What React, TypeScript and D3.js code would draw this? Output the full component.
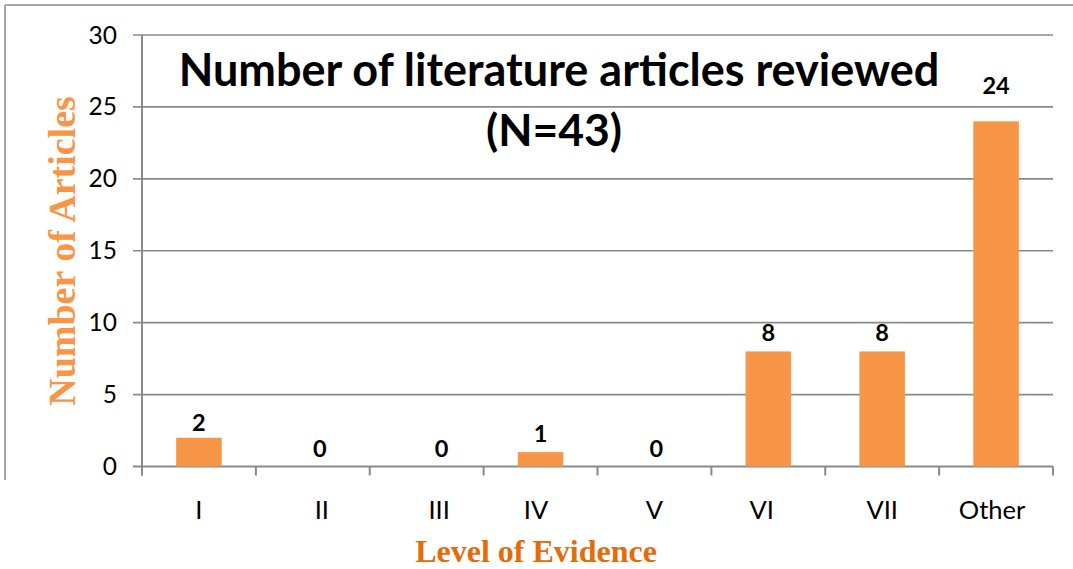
import React from "react";
import * as d3 from "d3";

const categories = ["I", "II", "III", "IV", "V", "VI", "VII", "Other"];
const articleCounts = [2, 0, 0, 1, 0, 8, 8, 24];
const yTicks = [0, 5, 10, 15, 20, 25, 30];
const titleLines = ["Number of literature articles reviewed", "(N=43)"];
const yAxisTitle = "Number of Articles";
const xAxisTitle = "Level of Evidence";

const W = 1073;
const H = 569;
const plot = { left: 142, right: 1053, top: 35, bottom: 466.5 };
// manual label placements as in the source chart
const labelNudgeY: Record<string, number> = { I: 3, Other: -17 };
const labelNudgeX: Record<string, number> = { II: 7, III: 15, V: 2 };
const tickNudgeX: Record<string, number> = { II: 9, III: 12.5, IV: -4.5, VI: -6.5, Other: -4 };

const sans = "Lato, 'Open Sans', sans-serif";
const serif = "'Liberation Serif', 'DejaVu Serif', serif";

export default function App() {
  const x = d3
    .scaleBand<string>()
    .domain(categories)
    .range([plot.left, plot.right])
    .paddingInner(0.6)
    .paddingOuter(0.3);
  const xb = d3.scaleBand<string>().domain(categories).range([plot.left, plot.right]);
  const y = d3.scaleLinear().domain([0, 30]).range([plot.bottom, plot.top]);
  const grid = "#8a8a8a";
  const bounds = categories.map((c) => xb(c)!).concat([plot.right]);

  return (
    <svg width={W} height={H} style={{ position: "absolute", left: 0, top: 0, background: "#fff" }}>
      {/* outer frame */}
      <line x1={5} y1={5} x2={W} y2={5} stroke="#a6a6a6" strokeWidth={2} />
      <line x1={5} y1={5} x2={5} y2={480} stroke="#a6a6a6" strokeWidth={2} />

      {/* gridlines + y ticks */}
      {yTicks.map((t) => (
        <g key={t}>
          <line x1={133} x2={plot.right} y1={y(t)} y2={y(t)} stroke={grid} strokeWidth={t === 0 ? 2 : 1.6} />
          <text x={117} y={y(t) + 8.5} textAnchor="end" fontFamily={sans} fontSize={24.5} fill="#000">
            {t}
          </text>
        </g>
      ))}
      <line x1={plot.left} x2={plot.left} y1={plot.top} y2={plot.bottom + 9} stroke={grid} strokeWidth={2} />
      {bounds.map((b, i) => (
        <line key={i} x1={b} x2={b} y1={plot.bottom} y2={plot.bottom + 9} stroke={grid} strokeWidth={2} />
      ))}

      {/* bars */}
      {categories.map((c, i) => (
        <rect
          key={c}
          x={x(c)}
          width={x.bandwidth()}
          y={y(articleCounts[i])}
          height={plot.bottom - y(articleCounts[i])}
          fill="#F79646"
        />
      ))}

      {/* value labels */}
      {categories.map((c, i) => (
        <text
          key={c}
          x={x(c)! + x.bandwidth() / 2 + (labelNudgeX[c] || 0)}
          y={y(articleCounts[i]) - 10 + (labelNudgeY[c] || 0)}
          textAnchor="middle"
          fontFamily={sans}
          fontWeight="bold"
          fontSize={23.5}
          fill="#000"
        >
          {articleCounts[i]}
        </text>
      ))}

      {/* x labels */}
      {categories.map((c) => (
        <text
          key={c}
          x={xb(c)! + xb.bandwidth() / 2 + (tickNudgeX[c] || 0)}
          y={519}
          textAnchor="middle"
          fontFamily={sans}
          fontSize={25.5}
          fill="#000"
        >
          {c}
        </text>
      ))}

      {/* title */}
      <text x={559} y={86} textAnchor="middle" fontFamily={sans} fontWeight="bold" fontSize={45} fill="#000">
        {titleLines[0]}
      </text>
      <text x={554} y={146} textAnchor="middle" fontFamily={sans} fontWeight="bold" fontSize={44.5} fill="#000">
        {titleLines[1]}
      </text>

      {/* axis titles */}
      <text
        transform={`translate(75,251) rotate(-90)`}
        textAnchor="middle"
        fontFamily={serif}
        fontWeight="bold"
        fontSize={38}
        fill="#F79646"
      >
        {yAxisTitle}
      </text>
      <text x={536} y={562} textAnchor="middle" fontFamily={serif} fontWeight="bold" fontSize={32} fill="#E46C0A">
        {xAxisTitle}
      </text>
    </svg>
  );
}
